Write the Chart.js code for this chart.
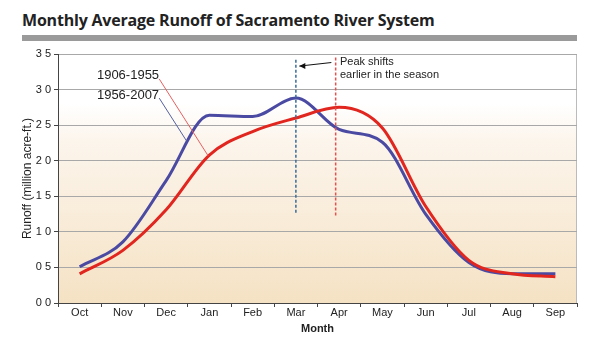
<!DOCTYPE html>
<html>
<head>
<meta charset="utf-8">
<script src="https://cdn.jsdelivr.net/npm/chart.js@4"></script>
<style>
  body { margin: 0; background: #fff; font-family: "Liberation Sans", Arial, sans-serif; }
  #wrap { position: relative; width: 605px; height: 340px; }
  #title { position: absolute; left: 22px; top: 9px; font: bold 16px "Open Sans", "DejaVu Sans", sans-serif; color: #222; letter-spacing: -0.2px; }
  #bar { position: absolute; left: 22px; top: 35px; width: 555px; height: 6px; background: #9a9a9a; }
  canvas { position: absolute; left: 0; top: 0; }
</style>
</head>
<body>
<div id="wrap">
  <div id="title">Monthly Average Runoff of Sacramento River System</div>
  <div id="bar"></div>
  <canvas id="runoffChart" width="605" height="340"></canvas>
</div>
<script>
// data (million acre-ft.)
const months = ["Oct", "Nov", "Dec", "Jan", "Feb", "Mar", "Apr", "May", "Jun", "Jul", "Aug", "Sep"];
const runoff1906 = [0.41, 0.74, 1.31, 2.08, 2.41, 2.60, 2.75, 2.46, 1.36, 0.60, 0.41, 0.37];
const runoff1956 = [0.51, 0.86, 1.72, 2.64, 2.62, 2.88, 2.44, 2.26, 1.25, 0.57, 0.41, 0.41];
const yTicks = [0, 0.5, 1.0, 1.5, 2.0, 2.5, 3.0, 3.5];

const RED = "#e0261f";
const BLUE = "#4b4aa3";

// background, leader lines, peak markers and axis titles
const decorPlugin = {
  id: "decor",
  beforeDraw(chart) {
    const { ctx, chartArea: a } = chart;
    const g = ctx.createLinearGradient(0, a.top, 0, a.bottom);
    g.addColorStop(0, "#ffffff");
    g.addColorStop(0.2, "#ffffff");
    g.addColorStop(0.35, "#fcf5ec");
    g.addColorStop(1, "#f5e2c4");
    ctx.save();
    ctx.fillStyle = g;
    ctx.fillRect(a.left, a.top, a.right - a.left, a.bottom - a.top);
    ctx.strokeStyle = "#bbb";
    ctx.lineWidth = 1;
    ctx.beginPath();
    ctx.moveTo(a.left, a.top + 0.5);
    ctx.lineTo(a.right - 0.5, a.top + 0.5);
    ctx.lineTo(a.right - 0.5, a.bottom);
    ctx.stroke();
    ctx.restore();
  },
  afterDatasetsDraw(chart) {
    const { ctx, scales } = chart;
    const x = scales.x, y = scales.y;
    ctx.save();

    // peak markers
    ctx.lineWidth = 1.5;
    ctx.setLineDash([3, 2]);
    ctx.strokeStyle = "#3a6d9a";
    ctx.beginPath();
    ctx.moveTo(x.getPixelForValue(5), y.getPixelForValue(3.42));
    ctx.lineTo(x.getPixelForValue(5), y.getPixelForValue(1.25));
    ctx.stroke();
    ctx.strokeStyle = "#e85050";
    ctx.beginPath();
    ctx.moveTo(x.getPixelForValue(5.92), y.getPixelForValue(3.45));
    ctx.lineTo(x.getPixelForValue(5.92), y.getPixelForValue(1.22));
    ctx.stroke();
    ctx.setLineDash([]);

    // arrow
    const ax1 = x.getPixelForValue(5.82), ay1 = y.getPixelForValue(3.38);
    const ax2 = x.getPixelForValue(5.08), ay2 = y.getPixelForValue(3.33);
    ctx.strokeStyle = "#111";
    ctx.fillStyle = "#111";
    ctx.lineWidth = 1;
    ctx.beginPath();
    ctx.moveTo(ax1, ay1);
    ctx.lineTo(ax2, ay2);
    ctx.stroke();
    ctx.beginPath();
    ctx.moveTo(ax2, ay2);
    ctx.lineTo(ax2 + 6, ay2 - 3);
    ctx.lineTo(ax2 + 6, ay2 + 3);
    ctx.closePath();
    ctx.fill();

    ctx.font = "11px 'Liberation Sans', Arial, sans-serif";
    ctx.fillStyle = "#222";
    ctx.textBaseline = "middle";
    ctx.textAlign = "left";
    ctx.fillText("Peak shifts", x.getPixelForValue(6.02), y.getPixelForValue(3.39));
    ctx.fillText("earlier in the season", x.getPixelForValue(6.02), y.getPixelForValue(3.21));

    // series labels with leader lines
    ctx.font = "13px 'Liberation Sans', Arial, sans-serif";
    ctx.fillText("1906-1955", x.getPixelForValue(0.4), y.getPixelForValue(3.2));
    ctx.fillText("1956-2007", x.getPixelForValue(0.4), y.getPixelForValue(2.92));
    ctx.lineWidth = 1;
    ctx.strokeStyle = "#e86060";
    ctx.beginPath();
    ctx.moveTo(x.getPixelForValue(1.84), y.getPixelForValue(3.15));
    ctx.lineTo(x.getPixelForValue(2.97), y.getPixelForValue(2.07));
    ctx.stroke();
    ctx.strokeStyle = "#5560a0";
    ctx.beginPath();
    ctx.moveTo(x.getPixelForValue(1.84), y.getPixelForValue(2.88));
    ctx.lineTo(x.getPixelForValue(2.47), y.getPixelForValue(2.28));
    ctx.stroke();

    // axis titles
    ctx.fillStyle = "#222";
    ctx.font = "12px 'Liberation Sans', Arial, sans-serif";
    ctx.save();
    ctx.translate(28, (chart.chartArea.top + chart.chartArea.bottom) / 2);
    ctx.rotate(-Math.PI / 2);
    ctx.textAlign = "center";
    ctx.fillText("Runoff (million acre-ft.)", 0, 0);
    ctx.restore();
    ctx.font = "bold 11px 'Liberation Sans', Arial, sans-serif";
    ctx.textAlign = "center";
    ctx.fillText("Month", (chart.chartArea.left + chart.chartArea.right) / 2, 329);
    ctx.restore();
  }
};

new Chart(document.getElementById("runoffChart").getContext("2d"), {
  type: "line",
  data: {
    labels: months,
    datasets: [
      {
        label: "1906-1955",
        data: runoff1906,
        borderColor: RED,
        borderWidth: 3,
        pointRadius: 0,
        cubicInterpolationMode: "monotone",
        fill: false
      },
      {
        label: "1956-2007",
        data: runoff1956,
        borderColor: BLUE,
        borderWidth: 3,
        pointRadius: 0,
        cubicInterpolationMode: "monotone",
        fill: false
      }
    ]
  },
  options: {
    responsive: false,
    animation: false,
    layout: { padding: { top: 54, right: 28, left: 0, bottom: 0 } },
    plugins: {
      legend: { display: false },
      tooltip: { enabled: false }
    },
    scales: {
      x: {
        offset: true,
        afterFit: s => { s.height = 37; },
        grid: {
          offset: true,
          drawOnChartArea: false,
          drawTicks: true,
          tickLength: 4,
          color: "#444"
        },
        border: { color: "#444", width: 1 },
        ticks: {
          color: "#222",
          font: { size: 11, family: "'Liberation Sans', Arial, sans-serif" },
          padding: -1,
          maxRotation: 0,
          autoSkip: false
        }
      },
      y: {
        min: 0,
        max: 3.5,
        afterFit: s => { s.width = 58; },
        afterBuildTicks: s => { s.ticks = yTicks.map(v => ({ value: v })); },
        grid: {
          color: "#a8a8a8",
          tickLength: 4,
          tickColor: "#444"
        },
        border: { color: "#444", width: 1 },
        ticks: {
          color: "#222",
          padding: 3,
          font: { size: 11, family: "'Liberation Sans', Arial, sans-serif" },
          callback: v => v.toFixed(1).replace(".", " ")
        }
      }
    }
  },
  plugins: [decorPlugin]
});
</script>
</body>
</html>
